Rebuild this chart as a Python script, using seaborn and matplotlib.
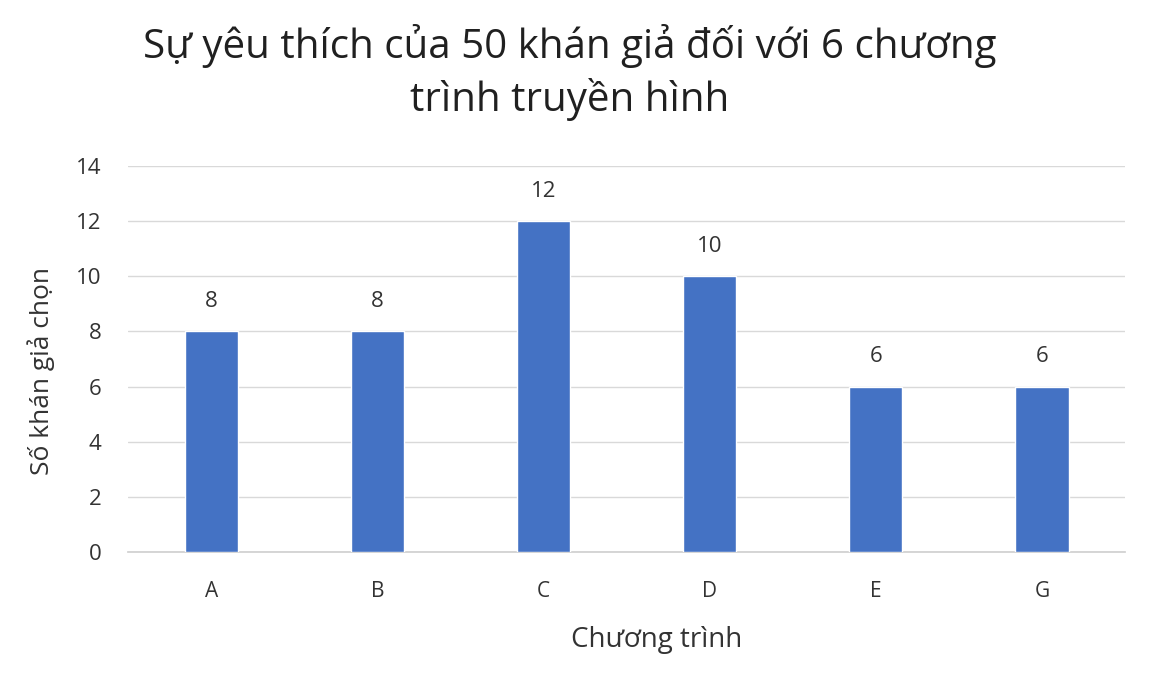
import matplotlib
matplotlib.use("Agg")
import matplotlib.pyplot as plt
import seaborn as sns
import pandas as pd

programs = ["A", "B", "C", "D", "E", "G"]
viewers = [8, 8, 12, 10, 6, 6]
title = "Sự yêu thích của 50 khán giả đối với 6 chương\ntrình truyền hình"
xlabel = "Chương trình"
ylabel = "Số khán giả chọn"

sns.set_theme(style="white")
plt.rcParams['font.family'] = ['Open Sans', 'DejaVu Sans']

df = pd.DataFrame({"program": programs, "viewers": viewers})

fig = plt.figure(figsize=(11.54, 6.8), dpi=100)
ax = fig.add_axes([0.111, 0.188, 0.864, 0.568])
sns.barplot(data=df, x="program", y="viewers", color="#4472C4", saturation=1,
            width=0.32, ax=ax, zorder=3)
ax.set_ylim(0, 14)
ax.set_yticks(range(0, 15, 2))
ax.grid(axis="y", color="#d9d9d9", linewidth=1, zorder=0)
for s in ["top", "right", "left"]:
    ax.spines[s].set_visible(False)
ax.spines["bottom"].set_color("#d0d0d0")
ax.tick_params(axis="y", length=0, labelsize=16, colors="#333333", pad=19)
ax.tick_params(axis="x", length=0, labelsize=15, colors="#333333", pad=21)
for c in ax.containers:
    ax.bar_label(c, padding=14, fontsize=16, color="#333333")
ax.set_xlabel(xlabel, fontsize=20, color="#333333")
ax.set_ylabel(ylabel, fontsize=19, color="#333333")
ax.xaxis.set_label_coords(0.53, -0.192)
ax.yaxis.set_label_coords(-0.073, 0.47)
fig.text(0.494, 0.965, title, ha="center", va="top", fontsize=29, color="#202020",
         linespacing=1.3)
fig.savefig("out.png", dpi=100)
